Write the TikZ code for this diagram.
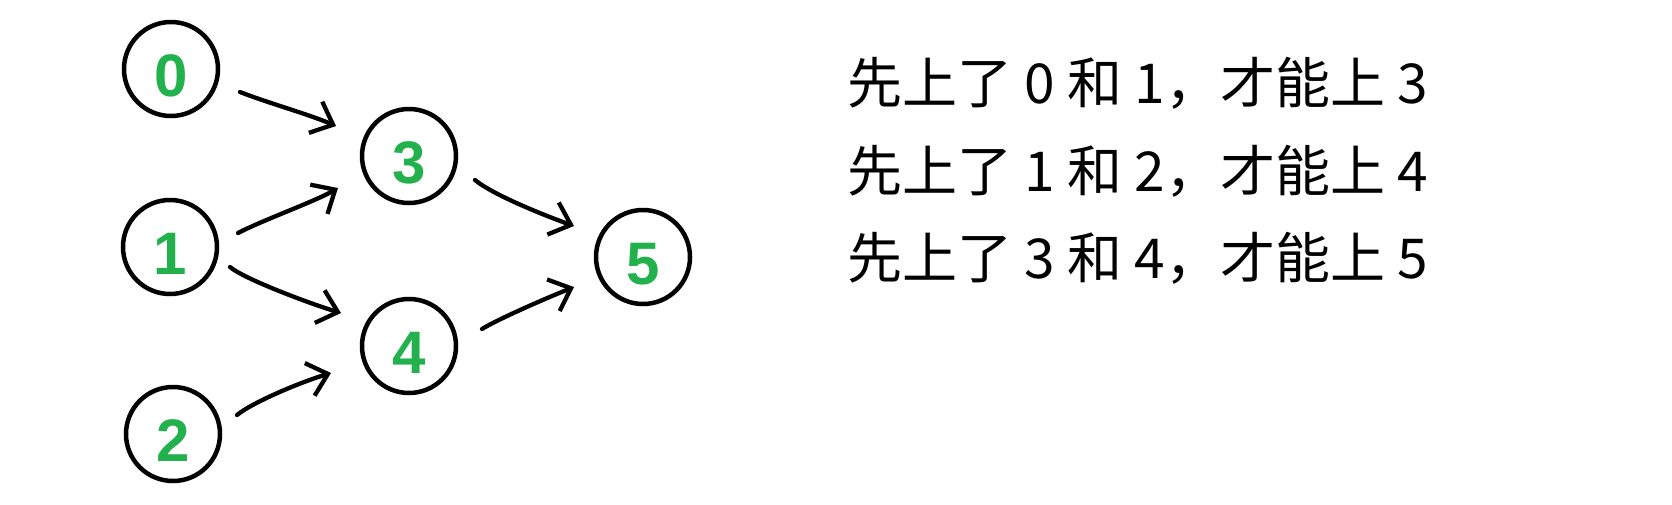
\documentclass[tikz,border=0pt]{standalone}
\usepackage{fontspec}
\setmainfont{Liberation Sans}
\newfontfamily\cjk{Noto Sans CJK SC}
\usetikzlibrary{arrows.meta}
\definecolor{numgreen}{HTML}{22B14C}
\tikzset{
  vert/.style={draw=black, line width=4.5pt, circle, minimum size=94pt, inner sep=0pt,
    text=numgreen, font=\fontsize{60}{60}\selectfont\bfseries, text height=54pt, text depth=0pt},
  arr/.style={draw=black, line width=4.3pt, line cap=round, line join=round,
    -{Straight Barb[length=19pt,width=34pt,line width=4.3pt]}},
  rule/.style={anchor=west, inner sep=0pt, font=\cjk\fontsize{55}{55}\selectfont}
}
\begin{document}
\begin{tikzpicture}[x=1pt,y=-1pt]
\useasboundingbox[fill=white] (0,0) rectangle (1672,504);
\node[vert] (n0) at (171,69) {0};
\node[vert] (n1) at (170,247) {1};
\node[vert] (n2) at (173,434) {2};
\node[vert] (n3) at (409,156) {3};
\node[vert] (n4) at (409,346) {4};
\node[vert] (n5) at (643,257) {5};

\draw[arr] ([shift={(69,23)}]n0.center) .. controls +(28,11) and +(-28,-12) .. ([shift={(-73,-30)}]n3.center);
\draw[arr] ([shift={(68,-14)}]n1.center) .. controls +(25,-13) and +(-22,13) .. ([shift={(-71,32)}]n3.center);
\draw[arr] ([shift={(60,20)}]n1.center) .. controls +(14,12) and +(-30,-9) .. ([shift={(-68,-33)}]n4.center);
\draw[arr] ([shift={(64,-19)}]n2.center) .. controls +(16,-13) and +(-30,9) .. ([shift={(-78,27)}]n4.center);
\draw[arr] ([shift={(66,24)}]n3.center) .. controls +(18,15) and +(-28,-10) .. ([shift={(-69,-31)}]n5.center);
\draw[arr] ([shift={(73,-17)}]n4.center) .. controls +(16,-10) and +(-25,10) .. ([shift={(-69,30)}]n5.center);

\node[rule] (t1) at (847,83) {先上了 0 和 1，才能上 3};
\node[rule] (t2) at (847,171) {先上了 1 和 2，才能上 4};
\node[rule] (t3) at (847,258) {先上了 3 和 4，才能上 5};
\end{tikzpicture}
\end{document}
